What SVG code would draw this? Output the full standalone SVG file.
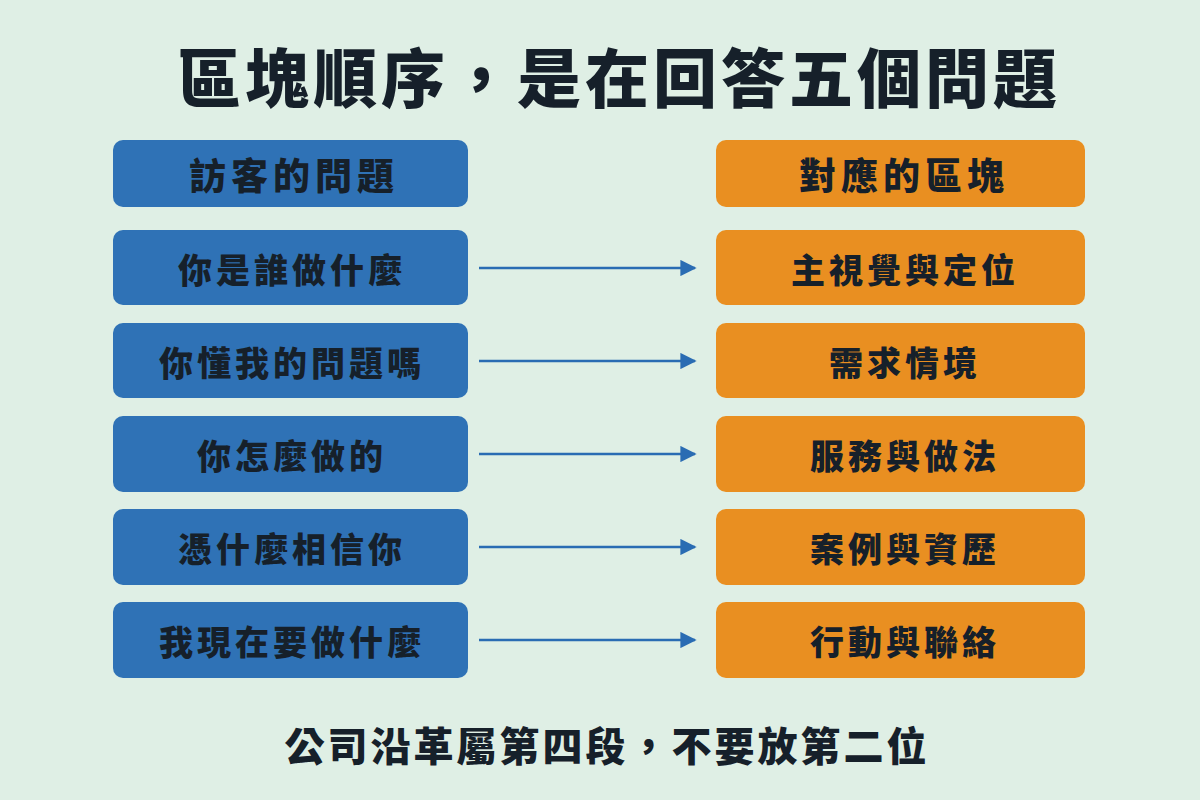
<svg xmlns="http://www.w3.org/2000/svg" width="1200" height="800" viewBox="0 0 1200 800">
<defs>
<style>
.t{font-family:"Noto Sans CJK TC","Noto Sans CJK SC",sans-serif;font-weight:900;fill:#16202a;text-anchor:middle;dominant-baseline:central}
.title{font-size:64px;letter-spacing:4px}
.hd{font-size:37px;letter-spacing:5px}
.lb{font-size:34px;letter-spacing:4px}
.ft{font-size:40px;letter-spacing:3px}
.b{fill:#2f72b6}
.o{fill:#e98f21}
.c{stroke:#2a6cb3;stroke-width:2.5;fill:none}
</style>
<marker id="ah" viewBox="0 0 10 10" refX="9" refY="5" markerWidth="6.5" markerHeight="6.5" markerUnits="strokeWidth" orient="auto">
<path d="M0,0 L10,5 L0,10 Z" fill="#2a6cb3"/>
</marker>
</defs>
<rect width="1200" height="800" fill="#dfefe5"/>
<text class="t title" x="619" y="74">區塊順序，是在回答五個問題</text>
<g id="hdr-left"><rect class="b" x="113" y="140" width="355" height="67" rx="10"/><text class="t hd" x="294" y="174">訪客的問題</text></g>
<g id="hdr-right"><rect class="o" x="716" y="140" width="369" height="67" rx="10"/><text class="t hd" x="904" y="174">對應的區塊</text></g>
<g id="q1"><rect class="b" x="113" y="230" width="355" height="75" rx="10"/><text class="t lb" x="292" y="268">你是誰做什麼</text></g>
<g id="q2"><rect class="b" x="113" y="323" width="355" height="75" rx="10"/><text class="t lb" x="292" y="361">你懂我的問題嗎</text></g>
<g id="q3"><rect class="b" x="113" y="416" width="355" height="76" rx="10"/><text class="t lb" x="292" y="454">你怎麼做的</text></g>
<g id="q4"><rect class="b" x="113" y="509" width="355" height="76" rx="10"/><text class="t lb" x="292" y="547">憑什麼相信你</text></g>
<g id="q5"><rect class="b" x="113" y="602" width="355" height="76" rx="10"/><text class="t lb" x="292" y="640">我現在要做什麼</text></g>
<g id="a1"><rect class="o" x="716" y="230" width="369" height="75" rx="10"/><text class="t lb" x="905" y="268">主視覺與定位</text></g>
<g id="a2"><rect class="o" x="716" y="323" width="369" height="75" rx="10"/><text class="t lb" x="905" y="361">需求情境</text></g>
<g id="a3"><rect class="o" x="716" y="416" width="369" height="76" rx="10"/><text class="t lb" x="905" y="454">服務與做法</text></g>
<g id="a4"><rect class="o" x="716" y="509" width="369" height="76" rx="10"/><text class="t lb" x="905" y="547">案例與資歷</text></g>
<g id="a5"><rect class="o" x="716" y="602" width="369" height="76" rx="10"/><text class="t lb" x="905" y="640">行動與聯絡</text></g>
<g id="connectors">
<line class="c" x1="479" y1="268" x2="695" y2="268" marker-end="url(#ah)"/>
<line class="c" x1="479" y1="361" x2="695" y2="361" marker-end="url(#ah)"/>
<line class="c" x1="479" y1="454" x2="695" y2="454" marker-end="url(#ah)"/>
<line class="c" x1="479" y1="547" x2="695" y2="547" marker-end="url(#ah)"/>
<line class="c" x1="479" y1="640" x2="695" y2="640" marker-end="url(#ah)"/>
</g>
<text class="t ft" x="607" y="744">公司沿革屬第四段，不要放第二位</text>
</svg>
